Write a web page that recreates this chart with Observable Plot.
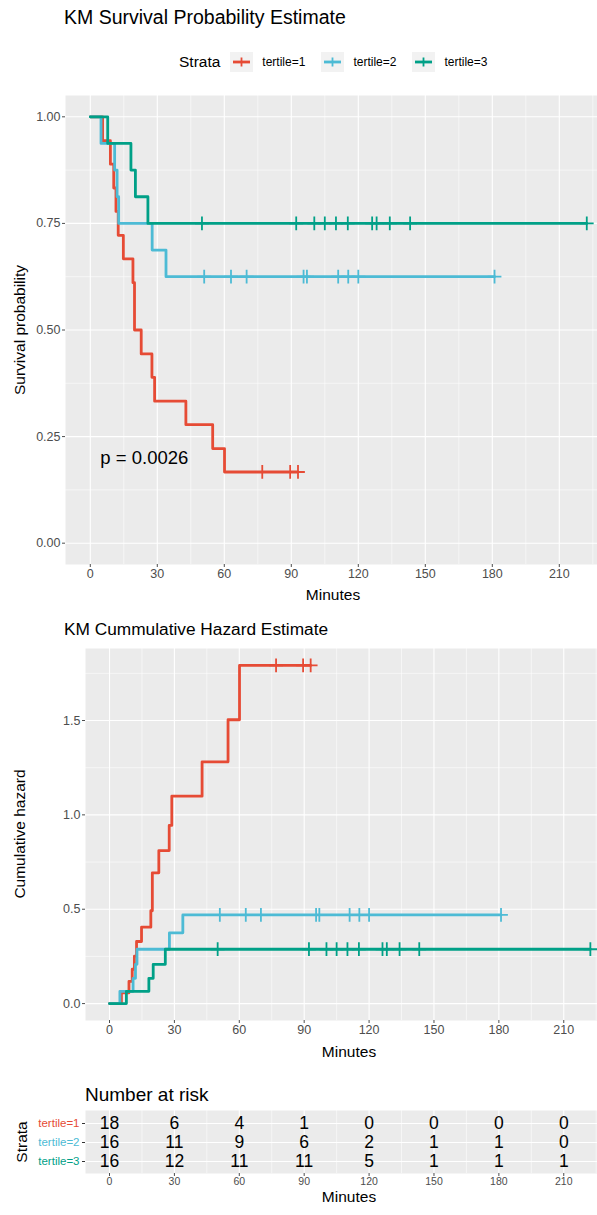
<!DOCTYPE html>
<html><head><meta charset="utf-8">
<script src="https://cdn.jsdelivr.net/npm/d3@7"></script>
<script src="https://cdn.jsdelivr.net/npm/@observablehq/plot@0.6"></script>
<style>
body{margin:0;background:#fff;font-family:"Liberation Sans",Arial,sans-serif;}
#root{position:relative;width:597px;height:1215px;overflow:hidden;background:#fff;}
.abs{position:absolute;white-space:nowrap;line-height:1;}
.c{transform:translate(-50%,-50%);}
.rot{transform:translate(-50%,-50%) rotate(-90deg);}
svg{position:absolute;left:0;overflow:hidden;}
</style></head><body><div id="root"></div>
<script>
// ---------- data ----------
const strata = ["tertile=1", "tertile=2", "tertile=3"];
const colors = ["#E64B35", "#4DBBD5", "#00A087"];

// step points (time, survival, cumulative hazard) per stratum
const t1Times = [0, 5.5, 9, 10.5, 11.5, 12.5, 14.8, 19.1, 19.8, 22.8, 27.6, 28.8, 42.8, 54.8, 60.1, 93];
const t1Surv  = [1, 0.944, 0.889, 0.833, 0.778, 0.722, 0.667, 0.611, 0.5, 0.444, 0.389, 0.333, 0.278, 0.222, 0.167, 0.167];
const t1Haz   = [0, 0.057, 0.118, 0.182, 0.251, 0.329, 0.405, 0.492, 0.693, 0.811, 0.944, 1.099, 1.281, 1.504, 1.792, 1.792];
const t1Cens  = [77, 89.5, 93];

const t2Times = [0, 4.8, 10.9, 12.0, 12.7, 27.7, 33.9, 181];
const t2Surv  = [1, 0.9375, 0.875, 0.8125, 0.75, 0.6875, 0.625, 0.625];
const t2Haz   = [0, 0.065, 0.134, 0.208, 0.288, 0.375, 0.470, 0.470];
const t2Cens  = [51, 63, 70, 95.5, 97, 111, 115.5, 120, 181];

const t3Times = [0, 7.8, 18.2, 20.2, 25.8, 222.3];
const t3Surv  = [1, 0.9375, 0.875, 0.8125, 0.75, 0.75];
const t3Haz   = [0, 0.065, 0.134, 0.208, 0.288, 0.288];
const t3Cens  = [50, 92.2, 100.3, 105, 110, 115.3, 126.2, 128.2, 134.1, 143.2, 222.3];

const pValueLabel = ["p = 0.0026"];

// number at risk
const riskTimes = [0, 30, 60, 90, 120, 150, 180, 210];
const risk1 = [18, 6, 4, 1, 0, 0, 0, 0];
const risk2 = [16, 11, 9, 6, 2, 1, 1, 0];
const risk3 = [16, 12, 11, 11, 5, 1, 1, 1];

// ticks
const xMajor = [0, 30, 60, 90, 120, 150, 180, 210];
const xMinor = [15, 45, 75, 105, 135, 165, 195, 225];
const survMajor = [0, 0.25, 0.5, 0.75, 1];
const survMinor = [0.125, 0.375, 0.625, 0.875];
const hazMajor = [0, 0.5, 1, 1.5];
const hazMinor = [0.25, 0.75, 1.25, 1.75];

// ---------- build tables ----------
const series = [
  {s: strata[0], t: t1Times, sv: t1Surv, hz: t1Haz, c: t1Cens},
  {s: strata[1], t: t2Times, sv: t2Surv, hz: t2Haz, c: t2Cens},
  {s: strata[2], t: t3Times, sv: t3Surv, hz: t3Haz, c: t3Cens}
];
const steps = [], cens = [];
for (const g of series) {
  g.t.forEach((t, i) => steps.push({strata: g.s, time: t, surv: g.sv[i], haz: g.hz[i]}));
  for (const ct of g.c) {
    let k = 0;
    for (let i = 0; i < g.t.length; i++) if (g.t[i] <= ct) k = i;
    cens.push({strata: g.s, time: ct, surv: g.sv[k], haz: g.hz[k]});
  }
}
const riskRows = [];
[risk1, risk2, risk3].forEach((arr, j) => arr.forEach((n, i) => riskRows.push({strata: strata[j], time: riskTimes[i], n})));

const FONT = '"Liberation Sans", Arial, sans-serif';
const color = {domain: strata, range: colors};
const GREY = "#4D4D4D";

function grid(yMajor, yMinor) {
  return [
    Plot.frame({fill: "#EBEBEB", stroke: "none"}),
    Plot.ruleX(xMinor, {stroke: "white", strokeWidth: 0.55}),
    Plot.ruleY(yMinor, {stroke: "white", strokeWidth: 0.55}),
    Plot.ruleX(xMajor, {stroke: "white", strokeWidth: 1.1}),
    Plot.ruleY(yMajor, {stroke: "white", strokeWidth: 1.1})
  ];
}

const root = document.getElementById("root");
function place(svg, top) { svg.style.top = top + "px"; root.appendChild(svg); }
function txt(s, left, top, css, cls) {
  const d = document.createElement("div");
  d.className = "abs " + (cls || "");
  d.style.left = left + "px"; d.style.top = top + "px";
  d.style.cssText += css || "";
  d.textContent = s;
  root.appendChild(d);
  return d;
}

// ---------- survival plot ----------
const p1 = Plot.plot({
  width: 597, height: 510,
  marginLeft: 65, marginRight: 0, marginTop: 15, marginBottom: 26,
  style: {fontFamily: FONT, background: "transparent", overflow: "hidden"},
  x: {domain: [-11.1, 227.1]},
  y: {domain: [-0.05, 1.05]},
  color,
  marks: [
    ...grid(survMajor, survMinor),
    Plot.axisX(xMajor, {tickSize: 3, tickPadding: 2, fontSize: 12.5, color: GREY, label: null}),
    Plot.axisY(survMajor, {tickSize: 3, tickPadding: 2, fontSize: 12.5, color: GREY, label: null, tickFormat: d3.format(".2f")}),
    Plot.line(steps, {x: "time", y: "surv", z: "strata", stroke: "strata", curve: "step-after", strokeWidth: 2.8}),
    Plot.dot(cens, {x: "time", y: "surv", stroke: "strata", symbol: "plus", r: 4.5, strokeWidth: 1.8}),
    Plot.text(pValueLabel, {x: 4.5, y: 0.2, text: d => d, textAnchor: "start", fontSize: 18.5, fill: "black"})
  ]
});
place(p1, 80);

// ---------- cumulative hazard plot ----------
const p2 = Plot.plot({
  width: 597, height: 410,
  marginLeft: 85, marginRight: 0, marginTop: 8, marginBottom: 30,
  style: {fontFamily: FONT, background: "transparent", overflow: "hidden"},
  x: {domain: [-11.1, 225.6]},
  y: {domain: [-0.0896, 1.8816]},
  color,
  marks: [
    ...grid(hazMajor, hazMinor),
    Plot.axisX(xMajor, {tickSize: 3, tickPadding: 2, fontSize: 12.5, color: GREY, label: null}),
    Plot.axisY(hazMajor, {tickSize: 3, tickPadding: 2, fontSize: 12.5, color: GREY, label: null, tickFormat: d3.format(".1f")}),
    Plot.line(steps, {x: "time", y: "haz", z: "strata", stroke: "strata", curve: "step-after", strokeWidth: 2.8}),
    Plot.dot(cens, {x: "time", y: "haz", stroke: "strata", symbol: "plus", r: 4.5, strokeWidth: 1.8})
  ]
});
place(p2, 640);

// ---------- number at risk table ----------
const p3 = Plot.plot({
  width: 597, height: 90,
  marginLeft: 85, marginRight: 0, marginTop: 10, marginBottom: 17,
  style: {fontFamily: FONT, background: "transparent", overflow: "hidden"},
  x: {domain: [-11.1, 225.6]},
  y: {type: "point", domain: strata, padding: 0.6},
  color,
  marks: [
    Plot.frame({fill: "#EBEBEB", stroke: "none"}),
    Plot.ruleX(xMinor, {stroke: "white", strokeWidth: 0.55}),
    Plot.ruleX(xMajor, {stroke: "white", strokeWidth: 1.1}),
    Plot.ruleY(strata, {y: d => d, stroke: "white", strokeWidth: 1.1}),
    Plot.axisX(xMajor, {tickSize: 3, tickPadding: 1, fontSize: 10.5, color: GREY, label: null}),
    Plot.axisY(strata, {tickSize: 3, tickFormat: () => "", color: "#333", label: null}),
    Plot.text(strata, {y: d => d, frameAnchor: "left", textAnchor: "end", dx: -6, fill: d => d, fontSize: 11.5}),
    Plot.text(riskRows, {x: "time", y: "strata", text: "n", fontSize: 17.5, fill: "black"})
  ]
});
place(p3, 1100);

// ---------- titles & labels ----------
txt("KM Survival Probability Estimate", 64, 8, "font-size:19.5px;color:#000;");
txt("Survival probability", 20, 330, "font-size:15.5px;color:#000;", "rot");
txt("Minutes", 333, 595, "font-size:15.5px;color:#000;", "c");
txt("KM Cummulative Hazard Estimate", 64, 621, "font-size:17.3px;color:#000;");
txt("Cumulative hazard", 20, 834, "font-size:15.5px;color:#000;", "rot");
txt("Minutes", 349, 1052, "font-size:15.5px;color:#000;", "c");
txt("Number at risk", 85, 1085, "font-size:19px;color:#000;");
txt("Strata", 22, 1142, "font-size:15.5px;color:#000;", "rot");
txt("Minutes", 349, 1197, "font-size:15.5px;color:#000;", "c");

// ---------- legend ----------
const leg = document.createElement("div");
leg.className = "abs";
leg.style.cssText += "left:179px;top:52px;height:20px;display:flex;align-items:center;font-size:12px;color:#000;";
const lt = document.createElement("span");
lt.textContent = "Strata"; lt.style.cssText = "font-size:15.5px;margin-right:10px;";
leg.appendChild(lt);
strata.forEach((s, i) => {
  const ns = "http://www.w3.org/2000/svg";
  const k = document.createElementNS(ns, "svg");
  k.setAttribute("width", 23); k.setAttribute("height", 20);
  k.style.cssText = "position:static;background:#F2F2F2;margin-right:9px;";
  const l = document.createElementNS(ns, "line");
  l.setAttribute("x1", 3); l.setAttribute("x2", 20); l.setAttribute("y1", 10); l.setAttribute("y2", 10);
  l.setAttribute("stroke", colors[i]); l.setAttribute("stroke-width", 2.8);
  const v = document.createElementNS(ns, "line");
  v.setAttribute("x1", 11.5); v.setAttribute("x2", 11.5); v.setAttribute("y1", 5.5); v.setAttribute("y2", 14.5);
  v.setAttribute("stroke", colors[i]); v.setAttribute("stroke-width", 1.8);
  k.appendChild(l); k.appendChild(v);
  leg.appendChild(k);
  const t = document.createElement("span");
  t.textContent = s; t.style.cssText = "margin-right:16px;";
  leg.appendChild(t);
});
root.appendChild(leg);
</script></body></html>
